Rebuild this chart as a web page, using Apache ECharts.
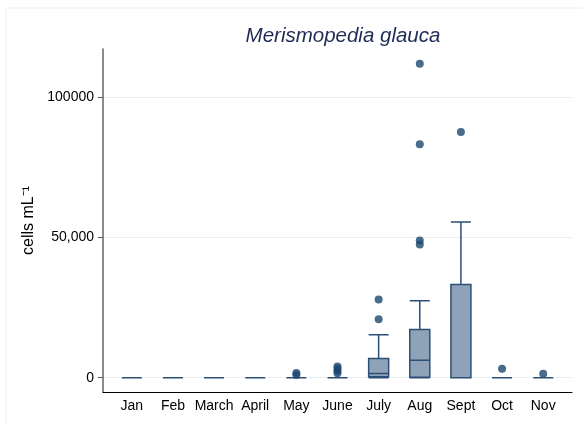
<!DOCTYPE html>
<html>
<head>
<meta charset="utf-8">
<script src="https://cdn.jsdelivr.net/npm/echarts@6/dist/echarts.min.js"></script>
<style>
  html, body { margin: 0; padding: 0; background: #fff; }
  #chart { width: 582px; height: 425px; }
</style>
</head>
<body>
<div id="chart"></div>
<script>
// month categories (x positions 0..10)
const months = ['Jan', 'Feb', 'March', 'April', 'May', 'June', 'July', 'Aug', 'Sept', 'Oct', 'Nov'];

// box stats per month: [lower whisker, Q1, median, Q3, upper whisker]
const boxStats = [
  [0, 0, 0, 0, 0],
  [0, 0, 0, 0, 0],
  [0, 0, 0, 0, 0],
  [0, 0, 0, 0, 0],
  [0, 0, 0, 0, 0],
  [0, 0, 0, 0, 0],
  [0, 300, 1500, 6850, 15300],
  [0, 200, 6250, 17200, 27500],
  [0, 0, 0, 33300, 55600],
  [0, 0, 0, 0, 0],
  [0, 0, 0, 0, 0]
];

// outliers: [month index, value]
const outliers = [
  [4, 1700], [4, 1000],
  [5, 4000], [5, 3200], [5, 2400], [5, 1600],
  [6, 27900], [6, 20900],
  [7, 112000], [7, 83300], [7, 49000], [7, 47500],
  [8, 87700],
  [9, 3200],
  [10, 1400]
];

// y-axis ticks and their printed labels
const yTicks = [0, 50000, 100000];
const yTickLabels = ['0', '50,000', '100000'];

const navy = '#1a476f';
const font = 'Liberation Sans, Arial, Helvetica, sans-serif';

const chart = echarts.init(document.getElementById('chart'));

const option = {
  backgroundColor: '#fff',
  animation: false,
  graphic: [{
    type: 'rect',
    shape: { x: 6, y: 8, width: 600, height: 500 },
    style: { fill: 'none', stroke: '#e6eeee', lineWidth: 1 },
    silent: true,
    z: -10
  }],
  title: {
    text: 'Merismopedia glauca',
    left: 338,
    top: 21,
    textAlign: 'center',
    textStyle: {
      fontFamily: font,
      fontStyle: 'italic',
      fontWeight: 'normal',
      fontSize: 20.5,
      color: '#1e2b57'
    }
  },
  grid: { left: 103, right: 10, top: 49, bottom: 33 },
  xAxis: {
    type: 'value',
    min: -0.7,
    max: 10.7,
    axisLine: { show: true, onZero: false, lineStyle: { color: '#000', width: 1 } },
    axisTick: { show: false },
    splitLine: { show: false },
    axisLabel: {
      customValues: months.map((_, i) => i),
      formatter: (v) => months[Math.round(v)] || '',
      color: '#000',
      fontFamily: font,
      fontSize: 14,
      margin: 7
    }
  },
  yAxis: {
    type: 'value',
    min: -5100,
    max: 117300,
    name: 'cells mL\u207B\u00B9',
    nameLocation: 'middle',
    nameGap: 60,
    nameRotate: 90,
    nameTextStyle: { fontFamily: font, fontSize: 16, color: '#000' },
    axisLine: { show: true, onZero: false, lineStyle: { color: '#666', width: 1.5 } },
    axisTick: { show: true, length: 5, customValues: yTicks, lineStyle: { color: '#555' } },
    axisLabel: {
      customValues: yTicks,
      formatter: (v) => yTickLabels[yTicks.indexOf(v)] ?? '',
      color: '#000',
      fontFamily: font,
      fontSize: 14,
      margin: 9
    },
    splitLine: { show: true, lineStyle: { color: '#eaf0f0', width: 1 } }
  },
  series: [
    {
      type: 'boxplot',
      data: months.map((_, i) => [i].concat(boxStats[i])),
      boxWidth: [20, 20],
      itemStyle: { color: '#8fa3b8', borderColor: '#2b4f75', borderWidth: 1.5 },
      z: 3
    },
    {
      type: 'scatter',
      data: outliers,
      symbol: 'circle',
      symbolSize: 8,
      itemStyle: { color: navy },
      z: 4
    }
  ]
};

chart.setOption(option);
</script>
</body>
</html>
